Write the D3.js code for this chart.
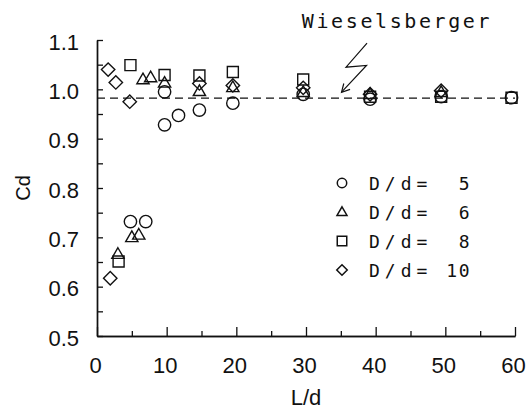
<!DOCTYPE html>
<html>
<head>
<meta charset="utf-8">
<script src="https://cdn.jsdelivr.net/npm/d3@7"></script>
<style>
  html, body { margin: 0; padding: 0; background: #fff; }
  svg { display: block; }
  text { fill: #111; }
</style>
</head>
<body>
<svg id="chart" width="531" height="410"></svg>
<script>
// Drag coefficient Cd against length ratio L/d, for four diameter ratios D/d.
const seriesNames = ["D/d=5", "D/d=6", "D/d=8", "D/d=10"];
const legendNumbers = ["5", "6", "8", "10"];

const ld5 = [4.8, 7.0, 9.7, 9.7, 11.7, 14.7, 19.5, 29.6, 39.2, 49.4, 59.5];
const cd5 = [0.732, 0.732, 0.995, 0.928, 0.947, 0.958, 0.972, 0.990, 0.980, 0.985, 0.983];

const ld6 = [3.0, 5.0, 6.0, 6.6, 7.7, 9.7, 14.7, 19.5, 29.6, 39.2, 49.4];
const cd6 = [0.666, 0.700, 0.705, 1.020, 1.024, 1.013, 0.996, 1.004, 0.994, 0.990, 0.994];

const ld8 = [3.1, 4.8, 9.7, 14.7, 19.5, 29.6, 39.2, 49.4, 59.5];
const cd8 = [0.651, 1.049, 1.029, 1.028, 1.035, 1.020, 0.985, 0.985, 0.983];

const ld10 = [1.9, 1.6, 2.7, 4.7, 14.7, 19.5, 29.6, 39.2, 49.4];
const cd10 = [0.617, 1.040, 1.014, 0.975, 1.012, 1.008, 1.003, 0.990, 0.997];

// Wieselsberger reference value (dashed line)
const wieselsbergerCd = 0.982;
const refLabel = "Wieselsberger";

const xMajorTicks = [0, 10, 20, 30, 40, 50, 60];
const xMinorTicks = [5, 15, 25, 35, 45, 55];
const yMajorTicks = [0.5, 0.6, 0.7, 0.8, 0.9, 1.0, 1.1];
const yMinorTicks = [0.55, 0.65, 0.75, 0.85, 0.95, 1.05];

const svg = d3.select("#chart");
const x = d3.scaleLinear().domain([0, 60]).range([97, 515]);
const y = d3.scaleLinear().domain([0.5, 1.1]).range([336, 40]);

const ink = "#111";
const labelFont = "'Liberation Sans', Arial, sans-serif";
const monoFont = "'DejaVu Sans Mono', 'Liberation Mono', monospace";

// --- Axes (ticks point inward) ---
function styleAxis(g) {
  g.selectAll("path.domain").attr("stroke", ink).attr("stroke-width", 1.4);
  g.selectAll(".tick line").attr("stroke", ink).attr("stroke-width", 1.3);
  g.selectAll(".tick text").attr("fill", ink)
    .style("font-family", labelFont).style("font-size", "22px");
}

svg.append("g").attr("transform", `translate(0,${y(0.5)})`)
  .call(d3.axisBottom(x).tickValues(xMinorTicks).tickSize(-5).tickSizeOuter(0).tickFormat(""))
  .call(styleAxis);
svg.append("g").attr("transform", `translate(0,${y(0.5)})`)
  .call(d3.axisBottom(x).tickValues(xMajorTicks).tickSize(-9).tickSizeOuter(0)
    .tickPadding(21).tickFormat(d3.format("d")))
  .call(styleAxis)
  .call(g => g.selectAll(".tick text").attr("dx", -2));

svg.append("g").attr("transform", `translate(${x(0)},0)`)
  .call(d3.axisLeft(y).tickValues(yMinorTicks).tickSize(-6).tickSizeOuter(0).tickFormat(""))
  .call(styleAxis);
svg.append("g").attr("transform", `translate(${x(0)},0)`)
  .call(d3.axisLeft(y).tickValues(yMajorTicks).tickSize(-6).tickSizeOuter(0)
    .tickPadding(18).tickFormat(d3.format(".1f")))
  .call(styleAxis)
  .call(g => g.selectAll(".tick text").attr("dy", "0.42em"));

// Axis titles
svg.append("text")
  .attr("x", (x(0) + x(60)) / 2).attr("y", 405)
  .attr("text-anchor", "middle")
  .style("font-family", labelFont).style("font-size", "22px")
  .text("L/d");
svg.append("text")
  .attr("transform", `translate(30,${y(0.8)}) rotate(-90)`)
  .attr("text-anchor", "middle")
  .style("font-family", labelFont).style("font-size", "20px")
  .text("Cd");

// --- Reference line ---
svg.append("line")
  .attr("x1", x(0)).attr("x2", x(60))
  .attr("y1", y(wieselsbergerCd)).attr("y2", y(wieselsbergerCd))
  .attr("stroke", ink).attr("stroke-width", 1.3)
  .attr("stroke-dasharray", "8,5");

// --- Symbols ---
const diamondSym = {
  draw(ctx, size) {
    const r = Math.sqrt(size) / 2;
    ctx.moveTo(0, -r); ctx.lineTo(r, 0); ctx.lineTo(0, r); ctx.lineTo(-r, 0); ctx.closePath();
  }
};
const triangleSym = {
  draw(ctx, size) {
    const s = Math.sqrt(size);
    const h = s * Math.sqrt(3) / 2;
    ctx.moveTo(0, -h * 0.6); ctx.lineTo(s / 2, h * 0.4); ctx.lineTo(-s / 2, h * 0.4); ctx.closePath();
  }
};
const symbolTypes = [d3.symbolCircle, triangleSym, d3.symbolSquare, diamondSym];
const plotSizes = [120, 150, 121, 180];
const legendSizes = [70, 100, 90, 110];

const series = [
  { ld: ld5, cd: cd5 },
  { ld: ld6, cd: cd6 },
  { ld: ld8, cd: cd8 },
  { ld: ld10, cd: cd10 }
];

series.forEach((s, i) => {
  const pts = s.ld.map((v, j) => ({ ld: v, cd: s.cd[j] }));
  svg.append("g").attr("class", "series-" + i)
    .selectAll("path").data(pts).join("path")
    .attr("transform", d => `translate(${x(d.ld)},${y(d.cd)})`)
    .attr("d", d3.symbol().type(symbolTypes[i]).size(plotSizes[i]))
    .attr("fill", "none").attr("stroke", ink).attr("stroke-width", 1.4);
});

// --- Wieselsberger annotation with zig-zag arrow ---
const tipX = x(35.1), tipY = y(wieselsbergerCd) - 6;
const zig = [
  [tipX + 25.5, tipY - 49],
  [tipX + 4.5, tipY - 25],
  [tipX + 25, tipY - 26.7],
  [tipX, tipY]
];
svg.append("path")
  .attr("d", d3.line()(zig))
  .attr("fill", "none").attr("stroke", ink).attr("stroke-width", 1.2);
const ang = Math.atan2(zig[3][1] - zig[2][1], zig[3][0] - zig[2][0]);
const barb = 9;
svg.append("path")
  .attr("d", d3.line()([
    [tipX - barb * Math.cos(ang - 0.5), tipY - barb * Math.sin(ang - 0.5)],
    [tipX, tipY],
    [tipX - barb * Math.cos(ang + 0.5), tipY - barb * Math.sin(ang + 0.5)]
  ]))
  .attr("fill", "none").attr("stroke", ink).attr("stroke-width", 1.2);

svg.append("text")
  .attr("x", x(29.4)).attr("y", 28)
  .style("font-family", monoFont).style("font-size", "20px")
  .style("letter-spacing", "2.6px")
  .text(refLabel);

// --- Legend ---
const legendX = 342, legendY0 = 183, legendStep = 29;
const legend = svg.append("g");
seriesNames.forEach((name, i) => {
  const ly = legendY0 + i * legendStep;
  legend.append("path")
    .attr("transform", `translate(${legendX},${ly})`)
    .attr("d", d3.symbol().type(symbolTypes[i]).size(legendSizes[i]))
    .attr("fill", "none").attr("stroke", ink).attr("stroke-width", 1.5);
  legend.append("text")
    .attr("x", 369).attr("y", ly + 6.6)
    .style("font-family", monoFont).style("font-size", "18px")
    .style("letter-spacing", "5px")
    .text("D/d=");
  legend.append("text")
    .attr("x", 471).attr("y", ly + 6.6)
    .attr("text-anchor", "end")
    .style("font-family", monoFont).style("font-size", "18px")
    .style("letter-spacing", "1.5px")
    .text(legendNumbers[i]);
});
</script>
</body>
</html>
